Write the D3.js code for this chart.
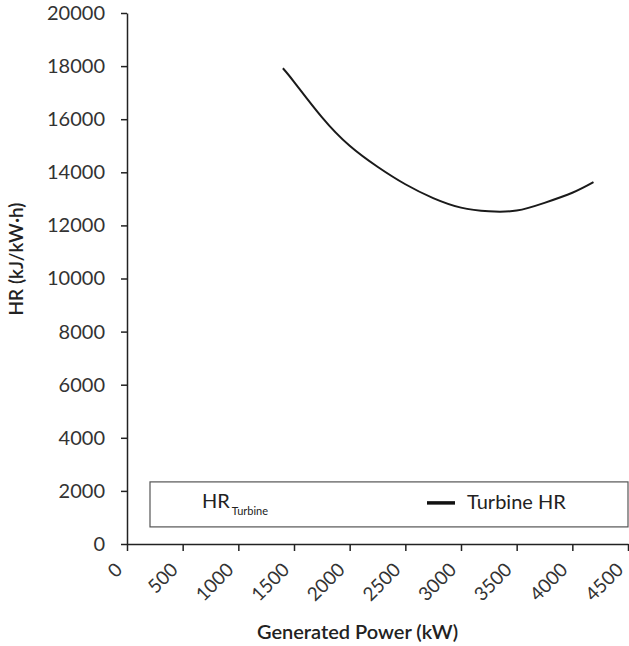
<!DOCTYPE html>
<html>
<head>
<meta charset="utf-8">
<script src="https://cdn.jsdelivr.net/npm/d3@7"></script>
<style>
  body { margin: 0; background: #fff; }
  svg { display: block; font-family: Lato, "DejaVu Sans", sans-serif; }
  .axis path, .axis line { stroke: #222; stroke-width: 1.5px; }
  .axis text { fill: #333; font-size: 20px; font-family: Lato, sans-serif; }
  .axis--x text { font-size: 19px; }
</style>
</head>
<body>
<div id="chart"></div>
<script>
// generated power (kW) and turbine heat rate (kJ/kW·h)
var power = [1400, 1500, 1750, 2000, 2250, 2500, 2750, 3000, 3250, 3500, 3750, 4000, 4190];
var heatRate = [17920, 17410, 16080, 15000, 14210, 13550, 13030, 12670, 12530, 12560, 12850, 13230, 13630];
var xTicks = [0, 500, 1000, 1500, 2000, 2500, 3000, 3500, 4000, 4500];
var yTicks = [0, 2000, 4000, 6000, 8000, 10000, 12000, 14000, 16000, 18000, 20000];
var seriesName = "Turbine HR";

var margin = { top: 13, right: 1, bottom: 102, left: 127 },
    width = 629 - margin.left - margin.right,
    height = 646 - margin.top - margin.bottom;

var svg = d3.select("#chart").append("svg")
    .attr("width", 629)
    .attr("height", 646)
  .append("g")
    .attr("transform", "translate(" + margin.left + "," + margin.top + ")");

var x = d3.scaleLinear().domain([0, 4500]).range([0, width]);
var y = d3.scaleLinear().domain([0, 20000]).range([height, 0]);

var data = power.map(function(p, i) { return { p: p, hr: heatRate[i] }; });

// legend box (drawn first so axes sit on top)
var lg = svg.append("g").attr("class", "legend");
lg.append("rect")
    .attr("x", 23).attr("y", y(2000) - 9)
    .attr("width", width - 23).attr("height", 45)
    .attr("fill", "#fff").attr("stroke", "#555").attr("stroke-width", 1.2);
var lt = lg.append("text")
    .attr("x", 75).attr("y", y(2000) + 17)
    .style("font-size", "20px").style("fill", "#222");
lt.append("tspan").text("HR");
lt.append("tspan").attr("dy", 7).attr("dx", 2).style("font-size", "11px").text("Turbine");
lg.append("line")
    .attr("x1", 300).attr("x2", 328)
    .attr("y1", y(2000) + 12).attr("y2", y(2000) + 12)
    .attr("stroke", "#111").attr("stroke-width", 3.5);
lg.append("text")
    .attr("x", 340).attr("y", y(2000) + 18)
    .style("font-size", "20px").style("fill", "#222")
    .text(seriesName);

var xAxis = d3.axisBottom(x).tickValues(xTicks).tickSize(7).tickSizeOuter(0)
    .tickFormat(d3.format("d"));
var yAxis = d3.axisLeft(y).tickValues(yTicks).tickSize(6).tickPadding(16).tickSizeOuter(0)
    .tickFormat(d3.format("d"));

svg.append("g")
    .attr("class", "axis axis--y")
    .call(yAxis);

svg.append("g")
    .attr("class", "axis axis--x")
    .attr("transform", "translate(0," + height + ")")
    .call(xAxis)
  .selectAll("text")
    .attr("y", 0).attr("dy", 0)
    .style("text-anchor", "end")
    .attr("transform", "translate(-4,27) rotate(-45)");

svg.append("path")
    .datum(data)
    .attr("fill", "none")
    .attr("stroke", "#1a1a1a")
    .attr("stroke-width", 2)
    .attr("d", d3.line()
        .curve(d3.curveNatural)
        .x(function(d) { return x(d.p); })
        .y(function(d) { return y(d.hr); }));

svg.append("text")
    .attr("x", width / 2 - 20)
    .attr("y", height + 95)
    .style("text-anchor", "middle")
    .style("font-size", "20px").style("font-weight", "600").style("fill", "#222")
    .text("Generated Power (kW)");

svg.append("text")
    .attr("transform", "rotate(-90)")
    .attr("x", -(y(10000) - 19.5))
    .attr("y", -104)
    .style("text-anchor", "middle")
    .style("font-size", "19px").style("font-weight", "600").style("fill", "#222")
    .text("HR (kJ/kW·h)");
</script>
</body>
</html>
